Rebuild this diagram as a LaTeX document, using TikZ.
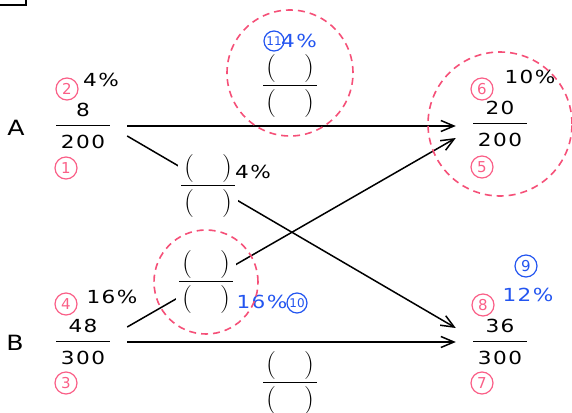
\documentclass[tikz,border=0pt]{standalone}
\usepackage{fontspec}
\newfontfamily\wide{DejaVu Sans}[FakeStretch=1.2,LetterSpace=8]
\newfontfamily\plain{DejaVu Sans}
\usetikzlibrary{arrows.meta,backgrounds}
\definecolor{markPink}{RGB}{250,95,135}
\definecolor{ringPink}{RGB}{245,80,120}
\definecolor{markBlue}{RGB}{35,85,240}

\newcommand{\numsize}{\wide\fontsize{18}{20}\selectfont}
\newcommand{\frc}[2]{\vbox{\hbox to 54pt{\hss#1\hss}\kern8pt
  \hrule height 1.6pt\kern9pt\hbox to 54pt{\hss#2\hss}}}
\newcommand{\pars}{\hbox to 54pt{\rmfamily\fontsize{28}{30}\selectfont\kern3pt(\hfill)\kern3pt}}
\newcommand{\blankfrc}{\vbox{\pars\kern2pt\hrule height 1.6pt\kern3pt\pars}}

\begin{document}
\begin{tikzpicture}[x=1pt,y=-1pt,
    frac/.style={inner xsep=17pt,inner ysep=0pt,font=\numsize},
    blank/.style={inner xsep=3pt,inner ysep=1pt},
    hole/.style={blank,fill=white},
    pct/.style={inner sep=0pt,font=\numsize},
    side/.style={inner sep=0pt,font=\wide\fontsize{21}{22}\selectfont},
    cnum/.style={circle,draw=markPink,text=markPink,line width=1.2pt,
                 minimum size=22pt,inner sep=0pt,font=\plain\fontsize{15}{15}\selectfont},
    bnum/.style={cnum,draw=markBlue,text=markBlue},
    twodig/.style={minimum size=20pt,font=\plain\fontsize{12}{12}\selectfont},
    ring/.style={draw=ringPink,line width=1.6pt,dash pattern=on 7pt off 5pt},
    link/.style={line width=1.5pt,-{Straight Barb[length=13pt,width=11pt]}}]

    \useasboundingbox (0,0) rectangle (572,412);
    \draw[line width=1.6pt] (-10,-10) rectangle (26,5);

    % A and B
    \node[side] (lA) at (16,128) {A};
    \node[side] (lB) at (15,343) {B};
    \node[frac] (fa) at (83,126) {\frc{8}{200}};
    \node[frac] (fb) at (83,342) {\frc{48}{300}};
    \node[pct] (pa) at (101,80) {4\%};
    \node[pct] (pb) at (112,297) {16\%};

    % results
    \node[frac] (fc) at (500,124) {\frc{20}{200}};
    \node[frac] (fd) at (500,342) {\frc{36}{300}};
    \node[pct] (pc) at (530,77) {10\%};
    \node[pct,text=markBlue] (pd) at (528,295) {12\%};

    % blanks
    \node[blank] (qt) at (290,86) {\blankfrc};
    \node[hole] (qm) at (208,186) {\blankfrc};
    \node[hole] (ql) at (206,282) {\blankfrc};
    \node[blank] (qb) at (290,383) {\blankfrc};
    \node[pct] (pm) at (253,172) {4\%};
    \node[pct,text=markBlue] (pl) at (262,302) {16\%};
    \node[pct,text=markBlue] (pt) at (299,41) {4\%};

    % circled steps
    \foreach \k/\x/\y in {1/66/168,2/67/89,3/66/383,4/66/304,
                          5/482/167,6/482/89,7/482/383,8/483/305} {
      \node[cnum] (c\k) at (\x,\y) {\k};
    }
    \node[bnum] (c9) at (526,266) {9};
    \node[bnum,twodig] (c10) at (297,303) {10};
    \node[bnum,twodig] (c11) at (274,41) {11};

    \draw[ring] ([yshift=13pt]qt.center) circle (63pt);
    \draw[ring] (fc.center) circle (72pt);
    \draw[ring] (ql.center) circle (52pt);

    \begin{scope}[on background layer]
      \draw[link] (fa.east) -- (fa.east -| fc.west);
      \draw[link] ([yshift=-10pt]fa.east) -- ([yshift=14pt]fd.west);
      \draw[link] ([yshift=15pt]fb.east) -- ([yshift=-14pt]fc.west);
      \draw[link] (fb.east) -- (fd.west);
    \end{scope}
\end{tikzpicture}
\end{document}
